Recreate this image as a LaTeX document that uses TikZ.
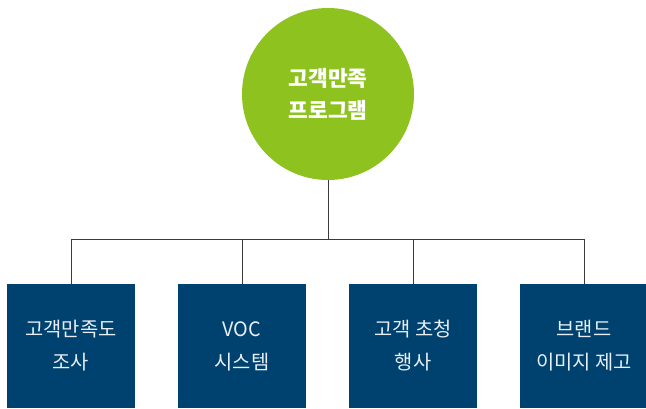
\documentclass[tikz,border=0pt]{standalone}
\usepackage{fontspec}
\setmainfont{Noto Sans CJK KR}
\usepackage{tikz}
\usetikzlibrary{positioning, calc}
\definecolor{programGreen}{HTML}{8DC21F}
\definecolor{programNavy}{HTML}{00426F}
\definecolor{programLine}{HTML}{3A3A3A}
\definecolor{programText}{HTML}{E8EEF4}

\begin{document}
\begin{tikzpicture}[
  x=1pt, y=-1pt,
  root/.style={circle, fill=programGreen, minimum size=172pt, inner sep=0pt,
               text=white, font=\fontsize{21.5}{32}\selectfont\bfseries, align=center},
  item/.style={rectangle, fill=programNavy, minimum width=128pt, minimum height=124pt,
               inner sep=0pt, text=programText, font=\fontsize{19.8}{33}\selectfont, align=center},
  link/.style={draw=programLine, line width=0.9pt}
]
\useasboundingbox (0,0) rectangle (646,408);

\node[root] (program) at (328,94) {고객만족\\프로그램};

\node[item] (survey) at (71,346) {고객만족도\\조사};
\node[item] (voc)    at (242,346) {VOC\\시스템};
\node[item] (event)  at (413,346) {고객 초청\\행사};
\node[item] (brand)  at (584,346) {브랜드\\이미지 제고};

\coordinate (bus) at (328,239);

% tree connectors
\foreach \child in {survey, voc, event, brand}
  \draw[link] (program.south) -- (bus) -| (\child.north);
\end{tikzpicture}
\end{document}
